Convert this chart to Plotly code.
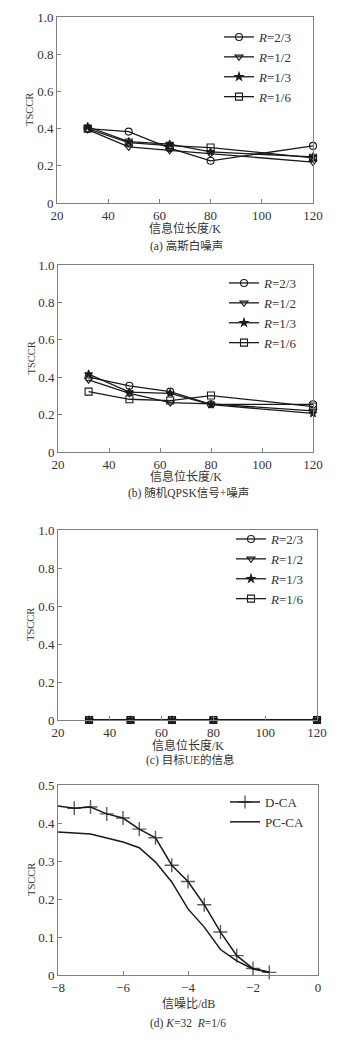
import plotly.graph_objects as go

# ---------------- data ----------------
K = [32, 48, 64, 80, 120]
rate_labels = ["<i>R</i>=2/3", "<i>R</i>=1/2", "<i>R</i>=1/3", "<i>R</i>=1/6"]

# (a) Gaussian white noise
tsccr_a_r23 = [0.400, 0.384, 0.295, 0.227, 0.307]
tsccr_a_r12 = [0.395, 0.302, 0.283, 0.266, 0.220]
tsccr_a_r13 = [0.410, 0.330, 0.316, 0.275, 0.248]
tsccr_a_r16 = [0.400, 0.325, 0.308, 0.298, 0.243]

# (b) random QPSK signal + noise
tsccr_b_r23 = [0.400, 0.354, 0.323, 0.255, 0.255]
tsccr_b_r12 = [0.386, 0.314, 0.264, 0.257, 0.220]
tsccr_b_r13 = [0.416, 0.320, 0.314, 0.253, 0.207]
tsccr_b_r16 = [0.323, 0.282, 0.275, 0.302, 0.243]

# (c) target UE information
tsccr_c_r23 = [0, 0, 0, 0, 0]
tsccr_c_r12 = [0, 0, 0, 0, 0]
tsccr_c_r13 = [0, 0, 0, 0, 0]
tsccr_c_r16 = [0, 0, 0, 0, 0]

# (d) K=32, R=1/6
snr_dca = [-8, -7.5, -7, -6.5, -6, -5.5, -5, -4.5, -4, -3.5, -3, -2.5, -2, -1.5]
tsccr_dca = [0.445, 0.439, 0.442, 0.424, 0.413, 0.384, 0.361, 0.289, 0.246,
             0.185, 0.113, 0.051, 0.017, 0.007]
snr_pcca = [-8, -7, -6, -5.5, -5, -4.5, -4, -3.5, -3, -2.5, -2, -1.5]
tsccr_pcca = [0.376, 0.371, 0.350, 0.335, 0.297, 0.245, 0.174, 0.126, 0.067,
              0.037, 0.016, 0.007]

x_ticks_k = [20, 40, 60, 80, 100, 120]
y_ticks_1 = [0, 0.2, 0.4, 0.6, 0.8, 1.0]
y_text_1 = ["0", "0.2", "0.4", "0.6", "0.8", "1.0"]
x_ticks_snr = [-8, -6, -4, -2, 0]
x_text_snr = ["\u22128", "\u22126", "\u22124", "\u22122", "0"]
y_ticks_d = [0, 0.1, 0.2, 0.3, 0.4, 0.5]
y_text_d = ["0", "0.1", "0.2", "0.3", "0.4", "0.5"]

captions = ["(a) 高斯白噪声", "(b) 随机QPSK信号+噪声", "(c) 目标UE的信息",
            "(d) <i>K</i>=32  <i>R</i>=1/6"]
xtitles = ["信息位长度/K", "信息位长度/K", "信息位长度/K", "信噪比/dB"]

# ---------------- layout helpers ----------------
W, H = 357, 1048
OFF = 8  # page body margin
FW, FH = W - 2 * OFF, H - 2 * OFF
FONT = "Liberation Serif, 'Noto Sans CJK SC', serif"
LINE = "#1a1a1a"
AXC = "#808080"
TXT = "#333333"


def px_x(v):
    return (v - OFF) / FW


def px_y(v):
    return 1 - (v - OFF) / FH


# plot boxes in window pixels: left, right, top, bottom
boxes = [(57, 313, 17, 203), (58, 313, 265, 452), (58, 317, 530, 720), (58, 318, 785, 975)]

fig = go.Figure()

symbols = ["circle-open", "triangle-down-open", "star", "square-open"]
sizes = [7, 7, 6, 7]

series_sets = [
    [tsccr_a_r23, tsccr_a_r12, tsccr_a_r13, tsccr_a_r16],
    [tsccr_b_r23, tsccr_b_r12, tsccr_b_r13, tsccr_b_r16],
    [tsccr_c_r23, tsccr_c_r12, tsccr_c_r13, tsccr_c_r16],
]
legend_names = ["legend", "legend2", "legend3", "legend4"]

for p, sset in enumerate(series_sets):
    xa = "x" if p == 0 else f"x{p+1}"
    ya = "y" if p == 0 else f"y{p+1}"
    for s, vals in enumerate(sset):
        fig.add_trace(go.Scatter(
            x=K, y=vals, xaxis=xa, yaxis=ya, mode="lines+markers",
            name=rate_labels[s], legend=legend_names[p],
            line=dict(color=LINE, width=1.3),
            marker=dict(symbol=symbols[s], size=sizes[s], color=LINE,
                        line=dict(color=LINE, width=1.1)),
            cliponaxis=False,
        ))

fig.add_trace(go.Scatter(
    x=snr_dca, y=tsccr_dca, xaxis="x4", yaxis="y4", mode="lines+markers",
    name="D-CA", legend="legend4",
    line=dict(color=LINE, width=1.5),
    marker=dict(symbol="cross-thin-open", size=[0] + [10] * (len(snr_dca) - 1),
                color=LINE, line=dict(color=LINE, width=1.4)),
    cliponaxis=False,
))
fig.add_trace(go.Scatter(
    x=snr_pcca, y=tsccr_pcca, xaxis="x4", yaxis="y4", mode="lines",
    name="PC-CA", legend="legend4",
    line=dict(color=LINE, width=1.5),
    cliponaxis=False,
))

axis_common = dict(
    showline=True, linecolor=AXC, linewidth=1, mirror=True,
    ticks="inside", ticklen=4, tickcolor=AXC, tickwidth=1,
    showgrid=False, zeroline=False, automargin=False,
    tickfont=dict(family=FONT, size=13, color=TXT),
)

layout = dict(
    width=FW, height=FH, margin=dict(l=0, r=0, t=0, b=0),
    paper_bgcolor="white", plot_bgcolor="white",
    font=dict(family=FONT, size=13, color=TXT),
    showlegend=True,
)

for p, (l, r, t, b) in enumerate(boxes):
    sfx = "" if p == 0 else str(p + 1)
    xdom = [px_x(l), px_x(r)]
    ydom = [px_y(b), px_y(t)]
    if p < 3:
        xr, xt, xtt = [20, 120], x_ticks_k, [str(v) for v in x_ticks_k]
        yr, yt, ytt = [0, 1.0], y_ticks_1, y_text_1
    else:
        xr, xt, xtt = [-8, 0], x_ticks_snr, x_text_snr
        yr, yt, ytt = [0, 0.5], y_ticks_d, y_text_d
    layout["xaxis" + sfx] = dict(axis_common, domain=xdom, range=xr, tickvals=xt,
                                 ticktext=xtt, anchor="y" + sfx)
    layout["yaxis" + sfx] = dict(axis_common, domain=ydom, range=yr, tickvals=yt,
                                 ticktext=ytt, anchor="x" + sfx)

legend_pos = [(219, 22), (224, 268), (231, 524), (225, 787)]
for p, (lx, ly) in enumerate(legend_pos):
    layout[legend_names[p]] = dict(
        x=px_x(lx), y=px_y(ly), xanchor="left", yanchor="top",
        bgcolor="rgba(0,0,0,0)", borderwidth=0,
        font=dict(family=FONT, size=13, color=TXT),
        tracegroupgap=0, itemwidth=30,
    )

annotations = []
xtitle_y = [229, 477, 745, 1004]
caption_y = [246, 493, 760, 1023]
caption_x = [186, 188, 190, 188]
ytitle_x = [30, 31, 30, 31]
for p, (l, r, t, b) in enumerate(boxes):
    annotations.append(dict(text=xtitles[p], x=px_x((l + r) / 2), y=px_y(xtitle_y[p]),
                            xref="paper", yref="paper", showarrow=False,
                            xanchor="center", yanchor="middle",
                            font=dict(family=FONT, size=12, color=TXT)))
    annotations.append(dict(text=captions[p], x=px_x(caption_x[p]), y=px_y(caption_y[p]),
                            xref="paper", yref="paper", showarrow=False,
                            xanchor="center", yanchor="middle",
                            font=dict(family=FONT, size=11.5, color=TXT)))
    annotations.append(dict(text="TSCCR", x=px_x(ytitle_x[p]), y=px_y((t + b) / 2),
                            xref="paper", yref="paper", showarrow=False, textangle=-90,
                            xanchor="center", yanchor="middle",
                            font=dict(family=FONT, size=10.5, color=TXT)))
layout["annotations"] = annotations

fig.update_layout(**layout)
fig.write_html("out.html")
